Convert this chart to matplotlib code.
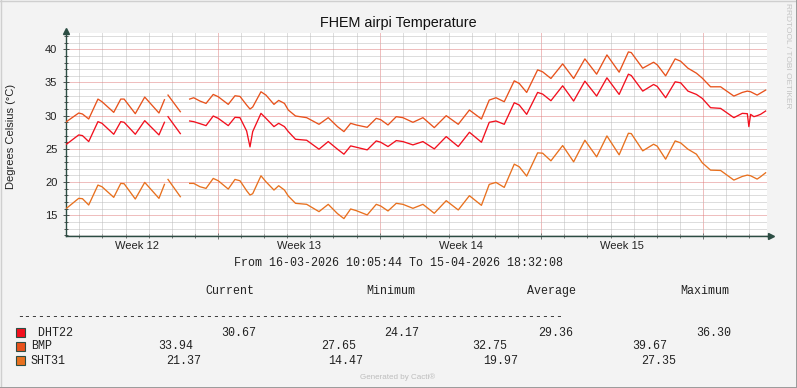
import numpy as np
import matplotlib
matplotlib.use("Agg")
import matplotlib.pyplot as plt
import matplotlib.dates as mdates
from matplotlib.ticker import MultipleLocator
from matplotlib.patches import Rectangle
from matplotlib.lines import Line2D
from datetime import datetime, timedelta

nan = np.nan

# ---------------- data ----------------
title = "FHEM airpi Temperature"
ylabel = "Degrees Celsius (°C)"
start = datetime(2026, 3, 16, 10, 5, 44)
end = datetime(2026, 4, 15, 18, 32, 8)

# hours since start
hours = [0.5, 13.2, 17.1, 23.6, 33.2, 37.4, 49.6, 56.9, 60.4, 72.0,
         81.8, 96.6, 102.3, 103.9, 106.0, 118.8, 123.6, 128.5, 132.7, 139.2,
         145.5, 153.0, 158.2, 168.6, 175.6, 180.8, 187.7, 191.2, 194.0, 202.6,
         207.8, 216.1, 221.0, 227.0, 231.0, 238.5, 250.1, 262.9, 272.5, 282.1,
         288.8, 295.8, 301.6, 313.0, 322.4, 327.0, 334.6, 343.2, 350.1, 360.5,
         370.9, 382.7, 395.1, 407.6, 419.2, 431.7, 439.8, 446.8, 455.4, 465.8,
         471.0, 478.7, 490.1, 495.3, 503.9, 516.1, 527.5, 539.2, 551.4, 562.1,
         574.8, 584.4, 587.4, 599.3, 610.6, 614.4, 623.1, 633.0, 638.7, 646.3,
         655.1, 661.2, 669.8, 680.2, 694.0, 702.8, 708.0, 709.6, 711.4, 714.8,
         718.2, 721.7, 727.0]

bmp = [29.1, 30.4, 30.25, 29.5, 32.5, 32.1, 30.5, 32.5, 32.5, 30.3,
       32.8, 30.4, 32.4, nan, 33.1, 30.6, nan, 32.5, 32.7, 32.2,
       31.85, 33.2, 32.85, 31.7, 33.0, 32.9, 31.6, 31.0, 31.3, 33.6,
       33.1, 31.7, 32.3, 31.85, 30.85, 29.95, 29.7, 28.7, 29.7, 28.35,
       27.6, 28.85, 28.6, 28.25, 29.6, 29.4, 28.6, 29.85, 29.7, 29.0,
       29.7, 28.2, 30.0, 28.7, 30.85, 29.5, 32.35, 32.7, 32.1, 35.25,
       34.85, 33.5, 36.9, 36.6, 35.6, 37.8, 35.6, 38.55, 36.25, 39.15,
       36.55, 39.6, 39.5, 37.15, 38.05, 37.65, 36.0, 38.55, 38.2, 37.15,
       36.4, 35.65, 34.35, 34.35, 32.95, 33.5, 33.7, 33.65, 33.6, 33.35,
       33.1, 33.4, 33.85]

dht22 = [25.7, 27.1, 27.0, 26.1, 29.1, 28.85, 27.2, 29.1, 29.0, 27.2,
         29.25, 27.1, 29.0, nan, 29.85, 27.3, nan, 29.2, 29.1, 28.8,
         28.5, 29.95, 29.6, 28.5, 29.75, 29.7, 27.7, 25.3, 27.6, 30.35,
         29.6, 28.35, 28.85, 28.35, 27.6, 26.45, 26.3, 24.95, 26.1, 24.95,
         24.2, 25.45, 25.25, 24.85, 26.2, 26.0, 25.35, 26.25, 26.1, 25.6,
         26.1, 25.0, 26.85, 25.35, 27.5, 26.0, 29.0, 29.2, 28.7, 31.95,
         31.6, 30.2, 33.5, 33.25, 32.25, 34.5, 32.2, 35.2, 32.95, 35.7,
         33.2, 36.25, 36.05, 33.7, 34.7, 34.4, 32.7, 35.1, 34.95, 33.7,
         33.2, 32.6, 31.2, 31.1, 29.7, 30.35, 30.3, 28.35, 30.2, 29.85,
         30.0, 30.2, 30.7]

sht31 = [16.05, 17.55, 17.5, 16.55, 19.55, 19.3, 17.7, 19.8, 19.75, 17.45,
         19.95, 17.55, 19.65, nan, 20.4, 17.8, nan, 19.8, 19.8, 19.3,
         19.05, 20.55, 20.2, 18.95, 20.4, 20.2, 18.7, 18.05, 18.25, 20.95,
         20.05, 18.8, 19.45, 18.8, 17.9, 16.8, 16.65, 15.55, 16.65, 15.25,
         14.5, 15.95, 15.7, 15.05, 16.65, 16.4, 15.65, 16.8, 16.65, 16.05,
         16.65, 15.3, 17.2, 15.8, 17.95, 16.5, 19.65, 19.95, 19.2, 22.7,
         22.3, 20.9, 24.4, 24.35, 23.2, 25.5, 23.05, 26.3, 23.8, 26.95,
         24.1, 27.35, 27.3, 24.7, 25.7, 25.4, 23.45, 26.2, 25.9, 24.95,
         24.2, 22.9, 21.8, 21.75, 20.3, 20.85, 21.05, 21.0, 20.95, 20.7,
         20.45, 20.8, 21.4]

series_names = ["DHT22", "BMP", "SHT31"]
series_colors = ["#F2101E", "#E8521C", "#E8701E"]
current = ["30.67", "33.94", "21.37"]
minimum = ["24.17", "27.65", "14.47"]
average = ["29.36", "32.75", "19.97"]
maximum = ["36.30", "39.67", "27.35"]
headers = ["Current", "Minimum", "Average", "Maximum"]

# ---------------- figure ----------------
W, H = 797, 388
fig = plt.figure(figsize=(W / 100, H / 100), dpi=100, facecolor="#F3F3F3")
SANS = "Liberation Sans"
MONO = "Liberation Mono"
AXC = "#2C4D43"

def fx(px):
    return px / W

def fy(py):
    return 1 - py / H

ax_l, ax_r, ax_t, ax_b = 66, 767, 33, 236
ax = fig.add_axes([fx(ax_l), fy(ax_b), (ax_r - ax_l) / W, (ax_b - ax_t) / H])
ax.set_facecolor("white")

t = mdates.date2num([start + timedelta(hours=h) for h in hours])
series = [dht22, bmp, sht31]
for vals, col in zip(series, series_colors):
    ax.plot(t, vals, color=col, lw=0.95, zorder=3, solid_joinstyle="round")

ax.set_xlim(mdates.date2num(start), mdates.date2num(end))
ax.set_ylim(11.88, 42.45)

# grids
ax.xaxis.set_major_locator(mdates.WeekdayLocator(byweekday=mdates.MO))
ax.xaxis.set_minor_locator(mdates.DayLocator())
ax.yaxis.set_major_locator(MultipleLocator(5))
ax.yaxis.set_minor_locator(MultipleLocator(1))
ax.grid(which="minor", color="#BDBDBD", linestyle=(0, (1, 1)), linewidth=0.72, zorder=1)
ax.grid(which="major", color="#E07E7E", linestyle=(0, (1, 1)), linewidth=0.72, zorder=1)
ax.set_axisbelow(True)

ax.tick_params(axis="x", which="both", labelbottom=False, direction="inout",
               color="#777777", width=0.72)
ax.tick_params(axis="x", which="minor", length=3)
ax.tick_params(axis="x", which="major", length=4.5)
ax.tick_params(axis="y", which="both", direction="inout", color="#555555", width=0.72)
ax.tick_params(axis="y", which="minor", length=3)
ax.tick_params(axis="y", which="major", length=4.5, labelsize=8, labelcolor="#222222", pad=4)
for lab in ax.get_yticklabels():
    lab.set_fontfamily(SANS)

for s in ["top", "right"]:
    ax.spines[s].set_visible(False)
for s in ["left", "bottom"]:
    ax.spines[s].set_color(AXC)
    ax.spines[s].set_linewidth(1.0)

# axis arrows
ax.plot([1.0, 1.006], [0, 0], color=AXC, lw=1.0, transform=ax.transAxes, clip_on=False)
ax.plot([1.006], [0], marker=">", ms=4.5, color=AXC, transform=ax.transAxes, clip_on=False)
ax.plot([0, 0], [1.0, 1.01], color=AXC, lw=1.0, transform=ax.transAxes, clip_on=False)
ax.plot([0], [1.01], marker="^", ms=4.5, color=AXC, transform=ax.transAxes, clip_on=False)

# week labels centred in each ISO week
monday = datetime(2026, 3, 16)
xmin, xmax = ax.get_xlim()
for k in range(-1, 6):
    m = monday + timedelta(days=7 * k)
    mid = mdates.date2num(m + timedelta(days=3.5))
    if xmin < mid < xmax:
        wk = m.isocalendar()[1]
        ax.text(mid, -0.048, f"Week {wk}", transform=ax.get_xaxis_transform(),
                ha="center", va="center", fontsize=8, family=SANS, color="#222222")

# title & labels
fig.text(fx(398.5), fy(22.5), title, ha="center", va="center", fontsize=10.4,
         family=SANS, color="#111111")
fig.text(fx(11), fy(136), ylabel, rotation=90, ha="center", va="center",
         fontsize=8, family=SANS, color="#222222")
fig.text(fx(788), fy(56), "RRDTOOL / TOBI OETIKER", rotation=270, ha="center",
         va="center", fontsize=6.0, family=SANS, color="#C4C4C4")

# legend block
MS = 8.37
fig.text(fx(234.3), fy(262.5), "From 16-03-2026 10:05:44 To 15-04-2026 18:32:08",
         ha="left", va="center", fontsize=MS, family=MONO, color="#222222")
for hx, h in zip([205, 366, 526.7, 680], headers):
    fig.text(fx(hx), fy(290.7), h, ha="left", va="center", fontsize=MS,
             family=MONO, color="#222222")
fig.text(fx(16.7), fy(317), "-" * 78, ha="left", va="center", fontsize=MS,
         family=MONO, color="#222222")

row_y = [332.7, 346.2, 360.7]
name_txt = [" DHT22", "BMP", "SHT31"]
val_x = [[221.7, 384.3, 538.3, 696.0],
         [158.3, 321.0, 472.7, 632.3],
         [165.7, 328.3, 482.7, 640.7]]
for i in range(3):
    y = row_y[i]
    fig.add_artist(Rectangle((fx(15.5), fy(y + 4.5)), 9 / W, 9 / H,
                             transform=fig.transFigure, facecolor=series_colors[i],
                             edgecolor="#2C4D43", linewidth=0.8))
    fig.text(fx(30.7), fy(y), name_txt[i], ha="left", va="center", fontsize=MS,
             family=MONO, color="#222222")
    vals = [current[i], minimum[i], average[i], maximum[i]]
    for vx, v in zip(val_x[i], vals):
        fig.text(fx(vx), fy(y), v, ha="left", va="center", fontsize=MS,
                 family=MONO, color="#222222")

fig.text(fx(359.5), fy(377.5), "Generated by Cacti®", ha="left", va="center",
         fontsize=5.8, family=SANS, color="#BDBDBD")

# frame border
fig.add_artist(Line2D([0, 1], [fy(0.5), fy(0.5)], transform=fig.transFigure, color="#CFCFCF", lw=1.0))
fig.add_artist(Line2D([fx(0.5), fx(0.5)], [0, 1], transform=fig.transFigure, color="#CFCFCF", lw=1.0))
fig.add_artist(Line2D([0, 1], [fy(387.5), fy(387.5)], transform=fig.transFigure, color="#9A9A9A", lw=1.4))
fig.add_artist(Line2D([fx(796.5), fx(796.5)], [0, 1], transform=fig.transFigure, color="#9A9A9A", lw=1.4))

fig.savefig("out.png", dpi=100, facecolor=fig.get_facecolor())
